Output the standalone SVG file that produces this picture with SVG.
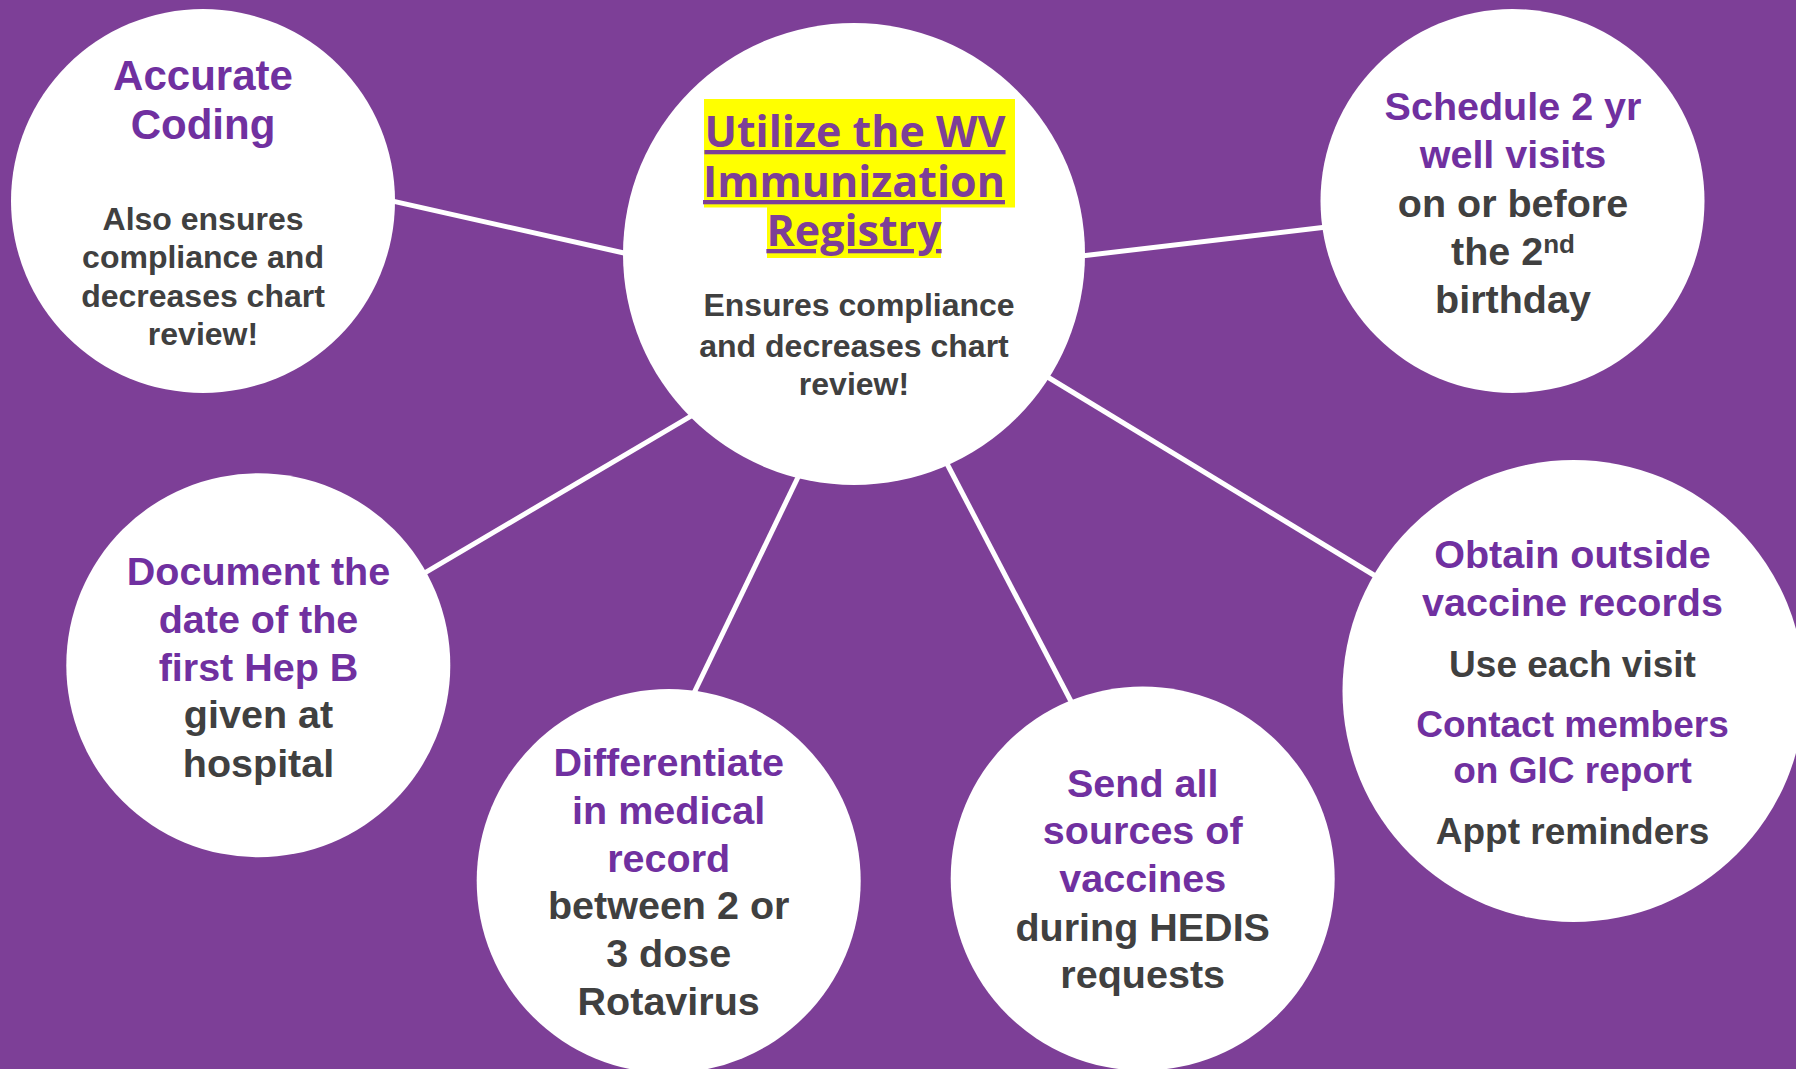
<svg xmlns="http://www.w3.org/2000/svg" width="1796" height="1069" viewBox="0 0 1796 1069">
<style>
.bg{fill:#7D3F97}
.node{fill:#FFFFFF}
.conn{stroke:#FFFFFF;stroke-width:5;fill:none}
text{font-family:"Liberation Sans",Arial,sans-serif;font-weight:bold;text-anchor:middle}
.p{fill:#7030A0}
.d{fill:#404040}
.h{font-size:39.5px}
.b{font-size:32px}
.o{font-size:37px}
.title{font-family:"Open Sans","Liberation Sans",sans-serif;font-size:43px;fill:#7D3F97;text-decoration:underline}
.hl{fill:#FFFF00}
</style>
<rect class="bg" x="0" y="0" width="1796" height="1069"/>
<g id="connectors">
<line class="conn" x1="385" y1="199.4" x2="634" y2="255.3"/>
<line class="conn" x1="1075" y1="256.7" x2="1333" y2="226.3"/>
<line class="conn" x1="1041" y1="373" x2="1382" y2="580"/>
<line class="conn" x1="699" y1="411.4" x2="418" y2="576.8"/>
<line class="conn" x1="801" y1="471" x2="693" y2="695"/>
<line class="conn" x1="944" y1="458" x2="1075" y2="709"/>
</g>
<g id="node-accurate-coding">
<circle class="node" cx="203" cy="201" r="192"/>
<text class="p" x="203" y="90" font-size="42">Accurate</text>
<text class="p" x="203" y="139" font-size="42">Coding</text>
<text class="d b" x="203" y="230">Also ensures</text>
<text class="d b" x="203" y="268">compliance and</text>
<text class="d b" x="203" y="307">decreases chart</text>
<text class="d b" x="203" y="345">review!</text>
</g>
<g id="node-registry">
<circle class="node" cx="854" cy="254" r="231"/>
<rect class="hl" x="704" y="99" width="311" height="108.5"/>
<rect class="hl" x="767" y="207" width="174" height="51"/>
<text class="title" x="855" y="147">Utilize the WV</text>
<text class="title" x="854" y="197">Immunization</text>
<text class="title" x="854" y="246">Registry</text>
<text class="d b" x="859" y="316">Ensures compliance</text>
<text class="d b" x="854" y="357">and decreases chart</text>
<text class="d b" x="854" y="395">review!</text>
</g>
<g id="node-schedule">
<circle class="node" cx="1512.5" cy="201" r="192"/>
<text class="p h" x="1513" y="120">Schedule 2 yr</text>
<text class="p h" x="1513" y="168">well visits</text>
<text class="d h" x="1513" y="217">on or before</text>
<text class="d h" x="1513" y="265">the 2<tspan font-size="26" dy="-12">nd</tspan></text>
<text class="d h" x="1513" y="313">birthday</text>
</g>
<g id="node-document">
<circle class="node" cx="258.3" cy="665.3" r="192"/>
<text class="p h" x="258.5" y="585">Document the</text>
<text class="p h" x="258.5" y="633">date of the</text>
<text class="p h" x="258.5" y="681">first Hep B</text>
<text class="d h" x="258.5" y="728">given at</text>
<text class="d h" x="258.5" y="777">hospital</text>
</g>
<g id="node-differentiate">
<circle class="node" cx="668.7" cy="881" r="192"/>
<text class="p h" x="668.7" y="776">Differentiate</text>
<text class="p h" x="668.7" y="824">in medical</text>
<text class="p h" x="668.7" y="872">record</text>
<text class="d h" x="668.7" y="919">between 2 or</text>
<text class="d h" x="668.7" y="967">3 dose</text>
<text class="d h" x="668.7" y="1015">Rotavirus</text>
</g>
<g id="node-send">
<circle class="node" cx="1142.7" cy="878.5" r="192"/>
<text class="p h" x="1142.7" y="797">Send all</text>
<text class="p h" x="1142.7" y="844">sources of</text>
<text class="p h" x="1142.7" y="892">vaccines</text>
<text class="d h" x="1142.7" y="941">during HEDIS</text>
<text class="d h" x="1142.7" y="988">requests</text>
</g>
<g id="node-obtain">
<circle class="node" cx="1573.5" cy="691" r="231"/>
<text class="p h" x="1572.5" y="568">Obtain outside</text>
<text class="p h" x="1572.5" y="616">vaccine records</text>
<text class="d o" x="1572.5" y="677">Use each visit</text>
<text class="p o" x="1572.5" y="737">Contact members</text>
<text class="p o" x="1572.5" y="783">on GIC report</text>
<text class="d o" x="1572.5" y="844">Appt reminders</text>
</g>
</svg>
